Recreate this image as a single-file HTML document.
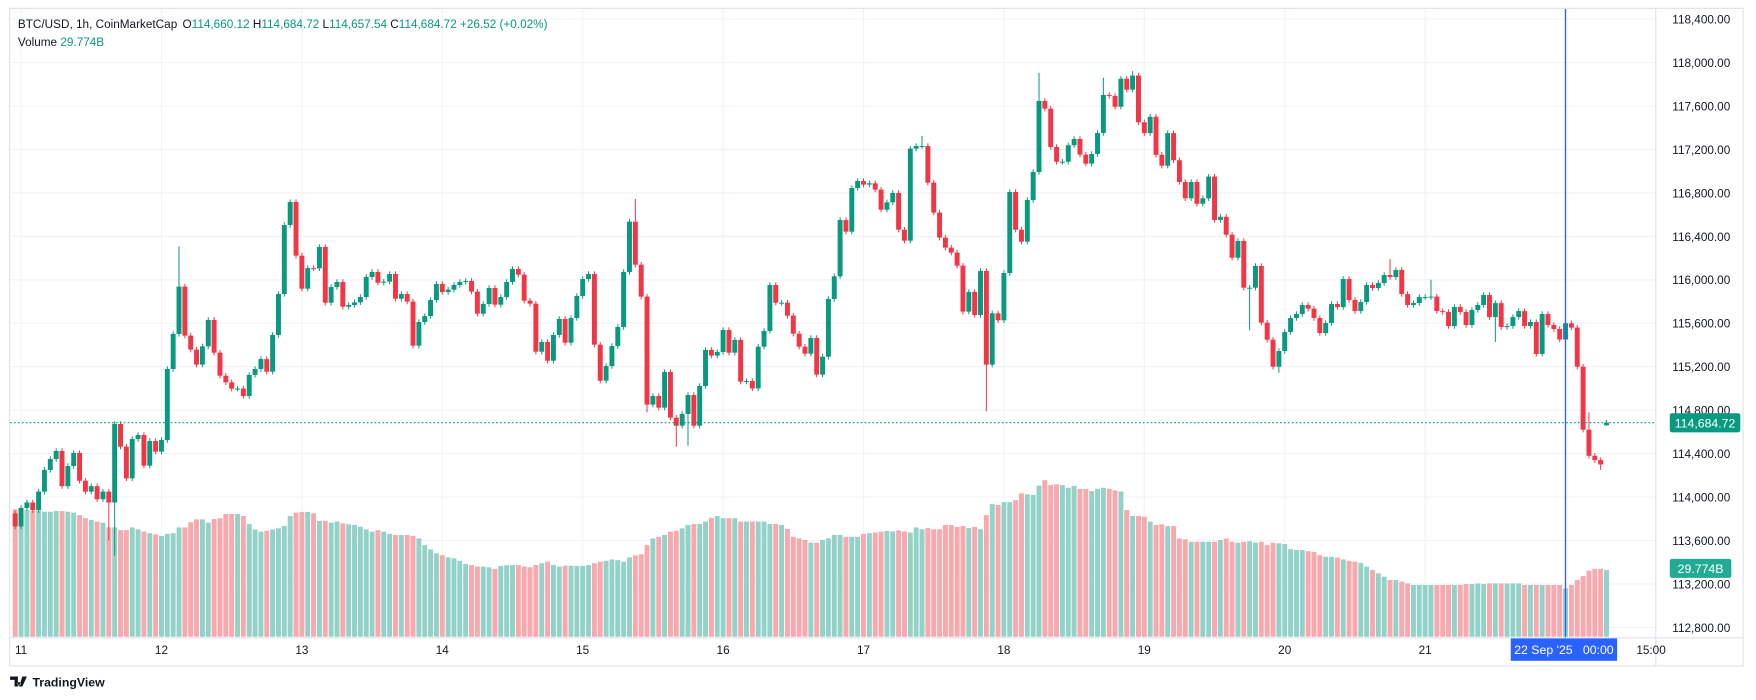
<!DOCTYPE html>
<html><head><meta charset="utf-8"><style>
html,body{margin:0;padding:0;background:#fff;}
svg{display:block;font-family:"Liberation Sans",sans-serif;}
</style></head><body>
<svg id="chart" width="1756" height="700" viewBox="0 0 1568 625" preserveAspectRatio="none" xmlns="http://www.w3.org/2000/svg">
<rect x="0" y="0" width="1568" height="625" fill="#fff"/>
<rect x="8.5" y="7.5" width="1548" height="587" fill="none" stroke="#e0e3eb" stroke-width="1"/>
<g id="grid"></g>
<g id="volumes"></g>
<g id="candles"></g>
<line x1="9" x2="1478" y1="377.4" y2="377.4" stroke="#089981" stroke-width="1" stroke-dasharray="1.5,2"/>
<line x1="1397.9" x2="1397.9" y1="8" y2="570" stroke="#2962ff" stroke-width="1.2"/>
<line x1="9" x2="1557" y1="569.5" y2="569.5" stroke="#e0e3eb"/>
<line x1="1478.5" x2="1478.5" y1="8" y2="594" stroke="#e0e3eb"/>
<g id="yaxis"></g>
<g id="xaxis"></g>
<g>
<rect x="1491" y="369" width="63" height="17" rx="2" fill="#089981"/>
<text x="1522.5" y="381.5" text-anchor="middle" font-size="11" fill="#fff">114,684.72</text>
</g>
<g>
<rect x="1491" y="499" width="55" height="17" rx="2" fill="#22ab94"/>
<text x="1518.5" y="511.5" text-anchor="middle" font-size="11" fill="#fff">29.774B</text>
</g>
<g>
<rect x="1349" y="570" width="95" height="20" fill="#2962ff"/>
<text x="1396.5" y="584" text-anchor="middle" font-size="11" fill="#fff" xml:space="preserve">22 Sep '25   00:00</text>
</g>
<g font-size="10.5">
<text x="16" y="25" fill="#131722">BTC/USD, 1h, CoinMarketCap</text>
<text x="163" y="25" fill="#131722">O<tspan fill="#089981">114,660.12</tspan> H<tspan fill="#089981">114,684.72</tspan> L<tspan fill="#089981">114,657.54</tspan> C<tspan fill="#089981">114,684.72</tspan> <tspan fill="#089981">+26.52 (+0.02%)</tspan></text>
<text x="16" y="41" fill="#131722">Volume <tspan fill="#089981">29.774B</tspan></text>
</g>
<g>
<path d="M9 604h7v9h-3v-6h-4z M17 609a1.5 1.5 0 1 0 0.01 0z M20 604h4l-4 9h-3z" fill="#131722"/>
<text x="29" y="613" font-size="11" font-weight="bold" fill="#131722">TradingView</text>
</g>
</svg>
<script>
const closes=[113730,113900,113950,113880,114050,114250,114350,114424,114100,114286,114406,114150,114050,114100,113980,114050,113950,114673,114464,114172,114534,114571,114289,114516,114418,114525,115179,115501,115937,115486,115357,115219,115387,115630,115329,115117,115056,114998,114999,114930,115124,115179,115270,115154,115492,115869,116504,116716,116222,115918,116108,116105,116302,115789,115933,115980,115752,115768,115792,115841,116026,116072,115973,115983,116053,115826,115869,115799,115394,115611,115666,115814,115961,115887,115909,115952,115980,115989,115891,115688,115777,115924,115771,115841,115980,116099,116047,115808,115780,115338,115427,115255,115492,115639,115421,115648,115851,116007,116053,115403,115071,115206,115390,115565,116072,116535,116139,115845,114851,114930,114823,115151,114731,114657,114765,114939,114657,115022,115354,115302,115335,115538,115329,115446,115062,115068,115000,115384,115529,115952,115789,115789,115670,115504,115384,115320,115464,115127,115292,115823,116032,116550,116443,116845,116909,116876,116888,116830,116645,116713,116799,116461,116360,117207,117231,117231,116894,116618,116388,116296,116250,116130,115707,115888,115676,116081,115219,115691,115627,116062,116808,116461,116351,116734,116992,117646,117575,117222,117087,117087,117238,117296,117152,117069,117158,117351,117701,117692,117593,117850,117750,117880,117450,117350,117500,117150,117050,117350,117100,116900,116750,116900,116700,116750,116950,116550,116580,116415,116203,116357,115927,115927,116127,115605,115449,115200,115344,115519,115648,115685,115768,115734,115648,115510,115602,115777,115749,116007,115814,115712,115795,115952,115924,115970,116044,116025,116090,115869,115768,115786,115841,115841,115845,115712,115703,115574,115749,115703,115584,115722,115768,115860,115657,115785,115565,115574,115657,115712,115574,115611,115317,115685,115584,115547,115450,115600,115560,115200,114620,114380,114340,114300,114684.72];
const volumes=[56.9,56.9,56.6,56.2,56.2,55.8,55.8,56.1,56.1,55.8,55.4,54.3,52.9,52.1,51.4,50.9,48.8,48.8,47.6,47.6,48.8,47.9,46.9,46.2,45.7,45.0,45.9,46.2,48.8,48.8,51.1,52.4,52.4,50.9,52.5,52.9,54.8,54.8,54.8,53.9,50.3,47.9,46.9,47.3,47.9,48.4,49.4,53.9,55.4,55.7,55.7,55.1,51.7,51.7,50.9,51.4,50.6,50.2,49.9,49.1,47.9,46.9,47.6,46.9,45.9,45.4,45.4,45.4,45.0,43.9,40.9,39.0,37.2,36.4,35.4,35.0,33.9,32.5,32.0,31.3,31.3,31.0,30.3,31.6,31.9,32.0,32.0,31.3,31.0,32.0,32.8,33.5,32.0,31.3,31.7,31.7,31.6,31.6,32.0,32.8,33.5,33.9,34.5,34.2,33.5,35.4,36.3,36.8,40.9,43.9,44.6,45.4,46.9,47.3,48.4,49.9,50.3,50.3,51.4,53.1,53.9,52.9,52.9,52.9,51.4,51.4,51.4,51.4,51.4,50.3,50.3,49.9,48.1,44.6,43.9,43.2,42.0,42.0,43.2,43.9,45.4,45.4,44.6,44.6,44.6,45.9,46.2,46.5,46.9,47.2,47.0,47.5,47.0,46.5,48.8,48.0,48.5,48.0,48.0,49.9,49.9,49.0,49.5,48.5,49.0,48.0,54.3,59.2,58.8,60.1,60.1,61.0,64.0,63.6,63.3,67.4,69.9,67.7,68.0,67.7,66.5,67.3,66.0,66.0,65.0,66.0,66.5,66.0,65.3,64.8,56.6,53.9,53.9,53.6,51.4,49.9,50.2,49.4,49.4,43.9,43.5,42.4,42.4,42.4,42.4,42.4,43.2,43.9,42.4,42.0,42.4,42.6,42.0,42.4,40.9,42.0,41.7,41.4,39.1,38.7,38.7,38.2,37.9,36.4,35.7,35.7,35.3,34.5,33.9,33.5,33.0,31.3,29.8,28.3,26.8,25.3,25.3,24.6,23.8,23.1,23.1,23.1,23.1,23.1,23.1,23.1,23.1,23.1,23.5,23.5,23.8,23.5,23.8,23.8,23.8,23.8,23.8,23.8,23.1,23.1,23.1,23.1,23.1,23.1,23.1,21.6,23.1,25.3,27.1,29.5,30.3,30.3,29.77];
const firstHour=-1;
const firstOpen=113850;
const openOverrideIdx=[271];
const openOverrideVal=[114660.12];
const wickHighIdx=[27,46,105,154,174,185,190,234,241,268];
const wickHighVal=[116307,116740,116743,117323,117906,117860,117920,116191,116000,114780];
const wickLowIdx=[15,16,107,112,114,165,210,215,252,270,271];
const wickLowVal=[113600,113462,114780,114464,114473,114790,115537,115145,115427,114250,114657.54];
const priceTicks=[118400,118000,117600,117200,116800,116400,116000,115600,115200,114800,114400,114000,113600,113200,112800];
const dayLabels=["11","12","13","14","15","16","17","18","19","20","21"];
const dayHours=[0,24,48,72,96,120,144,168,192,216,240];
const extraLabels=["15:00"];
const extraHours=[279];

const NS="http://www.w3.org/2000/svg";
function xOf(h){return 18.8+h*5.224;}
function yOf(p){return 17+(118400-p)*0.0970;}
function vy(v){return 568.5-v*2;}
function mk(tag,attrs,parent){const e=document.createElementNS(NS,tag);for(const k in attrs)e.setAttribute(k,attrs[k]);parent.appendChild(e);return e;}
const grid=document.getElementById('grid'),yaxis=document.getElementById('yaxis'),xaxis=document.getElementById('xaxis');
const cg=document.getElementById('candles'),vg=document.getElementById('volumes');

priceTicks.forEach(p=>{
  const y=yOf(p);
  const gl=mk('line',{x1:9,x2:1478,y1:y,y2:y,stroke:'#f0f3fa','stroke-width':1},grid);
  
  
  const t=mk('text',{x:1545,y:y+4,'text-anchor':'end','font-size':10.5,fill:'#131722'},yaxis);
  t.textContent=p.toLocaleString('en-US',{minimumFractionDigits:2});
  
  
});
dayHours.forEach((h,i)=>{
  const x=xOf(h);
  const gl=mk('line',{x1:x,x2:x,y1:8,y2:569,stroke:'#f0f3fa','stroke-width':1},grid);
  
  
  const t=mk('text',{x:x,y:584,'text-anchor':'middle','font-size':10.5,fill:'#131722'},xaxis);
  t.textContent=dayLabels[i];
  
  
});
extraHours.forEach((h,i)=>{
  const t=mk('text',{x:xOf(h)-2,y:584,'text-anchor':'middle','font-size':10.5,fill:'#131722'},xaxis);
  t.textContent=extraLabels[i];
  
  
});

const bw=4.4;
closes.forEach((c,i)=>{
  const h=firstHour+i;
  let o=i===0?firstOpen:closes[i-1];
  const ok=openOverrideIdx.indexOf(h); if(ok>=0)o=openOverrideVal[ok];
  const up=c>=o;
  const col=up?'#089981':'#f23645';
  const x=xOf(h);
  const top=Math.max(o,c),bot=Math.min(o,c);
  let hi=top+25,lo=bot-25;
  const hk=wickHighIdx.indexOf(h); if(hk>=0)hi=Math.max(top,wickHighVal[hk]);
  const lk=wickLowIdx.indexOf(h); if(lk>=0)lo=Math.min(bot,wickLowVal[lk]);
  const v=volumes[i];
  const vb=mk('rect',{x:x-bw/2,y:vy(v),width:bw,height:568.5-vy(v),fill:up?'#92d2c8':'#f9a8ae'},vg);
  
  
  const g=mk('g',{},cg);
  
  
  mk('line',{x1:x,x2:x,y1:yOf(hi),y2:yOf(lo),stroke:col,'stroke-width':0.9},g);
  const y1=yOf(top),y2=yOf(bot);
  mk('rect',{x:x-bw/2,y:y1,width:bw,height:Math.max(0.9,y2-y1),fill:col},g);
});
</script>
</body></html>
